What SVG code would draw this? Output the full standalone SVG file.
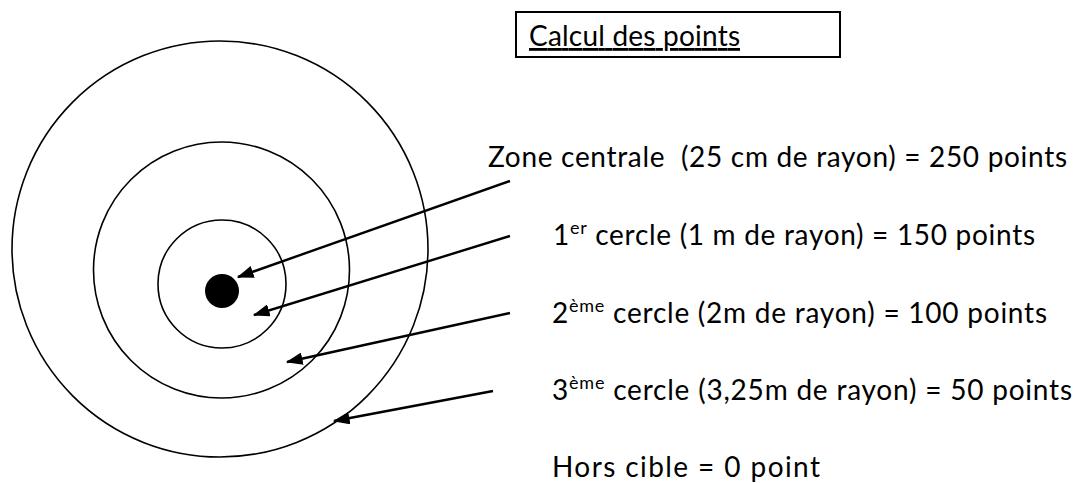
<svg xmlns="http://www.w3.org/2000/svg" width="1080" height="483" viewBox="0 0 1080 483">
<style>
.t{font-family:Lato,"Liberation Sans","DejaVu Sans",sans-serif;font-size:28px;fill:#000}
.sup{font-size:18px}
.ring{fill:none;stroke:#000;stroke-width:1.6}
.conn{stroke:#000;stroke-width:2.4;fill:none}
</style>
<defs>
<marker id="ah" markerWidth="7" markerHeight="5.2" refX="6.5" refY="2.6" orient="auto" markerUnits="strokeWidth">
<path d="M0,0 L7,2.6 L0,5.2 Z" fill="#000"/>
</marker>
</defs>
<rect width="1080" height="483" fill="#fff"/>
<g id="title">
<rect x="516" y="12" width="324" height="45" fill="none" stroke="#000" stroke-width="2"/>
<text class="t" x="529" y="46" font-size="30" text-decoration="underline" textLength="211">Calcul des points</text>
</g>
<g id="target">
<circle class="ring" cx="220" cy="249" r="208"/>
<circle class="ring" cx="221.5" cy="270" r="128"/>
<circle class="ring" cx="222" cy="284" r="64"/>
<circle cx="222" cy="291" r="17" fill="#000"/>
</g>
<g id="labels">
<text class="t" x="488" y="167" textLength="579" xml:space="preserve">Zone centrale  (25 cm de rayon) = 250 points</text>
<text class="t" x="553" y="245" textLength="482">1<tspan class="sup" dy="-11">er</tspan><tspan dy="11"> cercle (1 m de rayon) = 150 points</tspan></text>
<text class="t" x="552" y="323" textLength="495">2<tspan class="sup" dy="-11">ème</tspan><tspan dy="11"> cercle (2m de rayon) = 100 points</tspan></text>
<text class="t" x="552" y="400" textLength="520">3<tspan class="sup" dy="-11">ème</tspan><tspan dy="11"> cercle (3,25m de rayon) = 50 points</tspan></text>
<text class="t" x="552" y="477" textLength="268">Hors cible = 0 point</text>
</g>
<g id="connectors">
<line class="conn" x1="510" y1="181" x2="238" y2="277" marker-end="url(#ah)"/>
<line class="conn" x1="510" y1="236" x2="254" y2="315" marker-end="url(#ah)"/>
<line class="conn" x1="510" y1="313" x2="287" y2="362" marker-end="url(#ah)"/>
<line class="conn" x1="493" y1="391" x2="334" y2="421" marker-end="url(#ah)"/>
</g>
</svg>
